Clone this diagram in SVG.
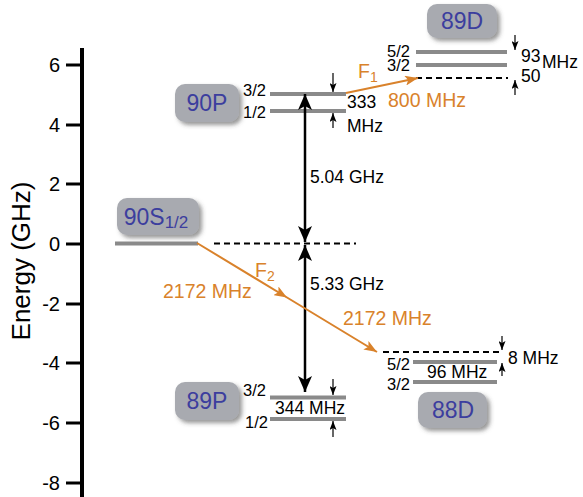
<svg xmlns="http://www.w3.org/2000/svg" width="583" height="497" viewBox="0 0 583 497">
<style>
  text { font-family: "Liberation Sans", Arial, sans-serif; fill: #000; }
  .tick { font-size: 20px; text-anchor: end; }
  .lvl { stroke: #8a8a8a; stroke-width: 4; fill: none; }
  .dash { stroke: #000; stroke-width: 2; stroke-dasharray: 6 4; fill: none; }
  .box { fill: #a8aab0; filter: url(#shadow); }
  .bl { font-size: 23px; fill: #3c3e9e; text-anchor: middle; }
  .j { font-size: 16.5px; }
  .s { font-size: 17.5px; }
  .or { fill: #d9822b; font-size: 19.5px; }
  .big { stroke: #000; stroke-width: 2.5; fill: none; marker-start: url(#bigHead); marker-end: url(#bigHead); }
  .sm { stroke: #000; stroke-width: 1.2; fill: none; marker-end: url(#smHead); }
  .ol { stroke: #d9822b; stroke-width: 2; fill: none; }
</style>
<defs>
  <filter id="shadow" x="-20%" y="-20%" width="150%" height="160%">
    <feDropShadow dx="3" dy="3" stdDeviation="2" flood-color="#444" flood-opacity="0.55"/>
  </filter>
  <marker id="bigHead" viewBox="0 0 16 14" markerWidth="16" markerHeight="14" refX="16" refY="7" orient="auto-start-reverse" markerUnits="userSpaceOnUse">
    <path d="M0,0 L16,7 L0,14 L4,7 z" fill="#000"/>
  </marker>
  <marker id="smHead" viewBox="0 0 9 7" markerWidth="9" markerHeight="7" refX="9" refY="3.5" orient="auto" markerUnits="userSpaceOnUse">
    <path d="M0,0 L9,3.5 L0,7 L2,3.5 z" fill="#000"/>
  </marker>
  <marker id="orHead" viewBox="0 0 13 10" markerWidth="13" markerHeight="10" refX="13" refY="5" orient="auto" markerUnits="userSpaceOnUse">
    <path d="M0,0 L13,5 L0,10 L3,5 z" fill="#d9822b"/>
  </marker>
</defs>

<g id="axis">
  <line x1="82" y1="48" x2="82" y2="497" stroke="#000" stroke-width="4"/>
  <g stroke="#000" stroke-width="3">
    <line x1="66" y1="65" x2="82" y2="65"/>
    <line x1="66" y1="125" x2="82" y2="125"/>
    <line x1="66" y1="184" x2="82" y2="184"/>
    <line x1="66" y1="244" x2="82" y2="244"/>
    <line x1="66" y1="304" x2="82" y2="304"/>
    <line x1="66" y1="363" x2="82" y2="363"/>
    <line x1="66" y1="423" x2="82" y2="423"/>
    <line x1="66" y1="483" x2="82" y2="483"/>
  </g>
  <text class="tick" x="60" y="72">6</text>
  <text class="tick" x="60" y="132">4</text>
  <text class="tick" x="60" y="191">2</text>
  <text class="tick" x="60" y="251">0</text>
  <text class="tick" x="60" y="311">-2</text>
  <text class="tick" x="60" y="370">-4</text>
  <text class="tick" x="60" y="430">-6</text>
  <text class="tick" x="60" y="490">-8</text>
  <text x="0" y="0" font-size="26" text-anchor="middle" transform="translate(30,261) rotate(-90)">Energy (GHz)</text>
</g>

<g id="node-90S">
  <rect class="box" x="117" y="198" width="82" height="37" rx="10"/>
  <text class="bl" x="156" y="225">90S<tspan font-size="17" dy="3">1/2</tspan></text>
  <line class="lvl" x1="115" y1="243.5" x2="198" y2="243.5"/>
</g>

<g id="node-90P">
  <rect class="box" x="175" y="84" width="64" height="38" rx="10"/>
  <text class="bl" x="207" y="111">90P</text>
  <line class="lvl" x1="270" y1="94" x2="346" y2="94"/>
  <line class="lvl" x1="270" y1="111" x2="346" y2="111"/>
  <text class="j" x="243" y="96">3/2</text>
  <text class="j" x="243" y="118">1/2</text>
  <text class="s" x="347" y="108">333</text>
  <text class="s" x="347" y="132">MHz</text>
</g>

<g id="node-89P">
  <rect class="box" x="175" y="382" width="64" height="38" rx="10"/>
  <text class="bl" x="207" y="409">89P</text>
  <line class="lvl" x1="270" y1="397.5" x2="346" y2="397.5"/>
  <line class="lvl" x1="270" y1="419" x2="346" y2="419"/>
  <text class="j" x="243" y="396">3/2</text>
  <text class="j" x="245" y="428">1/2</text>
  <text class="s" x="275" y="414">344 MHz</text>
</g>

<g id="node-89D">
  <rect class="box" x="427" y="4" width="70" height="34" rx="10"/>
  <text class="bl" x="462" y="29">89D</text>
  <line class="lvl" x1="416" y1="52" x2="507" y2="52"/>
  <line class="lvl" x1="416" y1="65" x2="507" y2="65"/>
  <line class="dash" x1="416" y1="78" x2="508" y2="78"/>
  <text class="j" x="387" y="57">5/2</text>
  <text class="j" x="387" y="70.5">3/2</text>
  <text class="s" x="521" y="62">93</text>
  <text class="s" x="521" y="82">50</text>
  <text class="s" x="542" y="68">MHz</text>
</g>

<g id="node-88D">
  <rect class="box" x="418" y="392" width="69" height="36" rx="10"/>
  <text class="bl" x="453" y="418">88D</text>
  <line class="dash" x1="383" y1="352" x2="500" y2="352"/>
  <line class="lvl" x1="413" y1="362" x2="497" y2="362"/>
  <line class="lvl" x1="413" y1="382" x2="497" y2="382"/>
  <text class="j" x="387" y="370">5/2</text>
  <text class="j" x="387" y="390">3/2</text>
  <text class="s" x="427" y="378">96 MHz</text>
  <text class="s" x="508" y="364">8 MHz</text>
</g>

<g id="connectors">
  <line class="dash" x1="214" y1="243.5" x2="356" y2="243.5"/>
  <line class="big" x1="305" y1="242" x2="305" y2="94"/>
  <line class="big" x1="305" y1="245" x2="305" y2="392"/>
  <text class="s" x="310" y="183">5.04 GHz</text>
  <text class="s" x="310" y="290">5.33 GHz</text>

  <line class="sm" x1="333" y1="73" x2="333" y2="92"/>
  <line class="sm" x1="333" y1="128" x2="333" y2="113"/>
  <line class="sm" x1="333" y1="379" x2="333" y2="395"/>
  <line class="sm" x1="333" y1="437" x2="333" y2="421"/>
  <line class="sm" x1="515" y1="35" x2="515" y2="50"/>
  <line class="sm" x1="515" y1="95" x2="515" y2="80"/>
  <line class="sm" x1="502" y1="336" x2="502" y2="350"/>
  <line class="sm" x1="502" y1="376" x2="502" y2="363"/>

  <line class="ol" x1="346" y1="93" x2="418" y2="78" marker-end="url(#orHead)"/>
  <polyline class="ol" points="197,243 287,297.5 377,352" marker-mid="url(#orHead)" marker-end="url(#orHead)"/>
  <text class="or" x="358" y="78">F<tspan font-size="14" dy="4">1</tspan></text>
  <text class="or" x="388" y="107">800 MHz</text>
  <text class="or" x="255" y="277">F<tspan font-size="14" dy="4">2</tspan></text>
  <text class="or" x="163" y="298">2172 MHz</text>
  <text class="or" x="343" y="325">2172 MHz</text>
</g>
</svg>
